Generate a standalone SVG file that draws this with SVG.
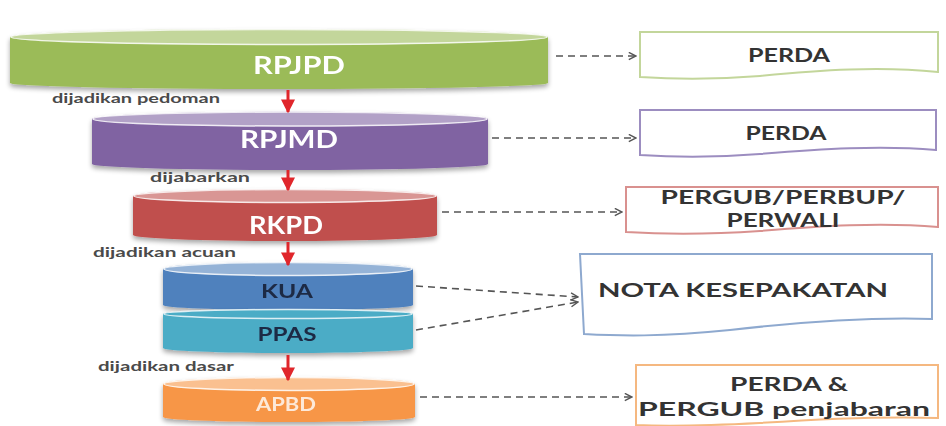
<svg xmlns="http://www.w3.org/2000/svg" width="946" height="426" viewBox="0 0 946 426">
<defs>
<marker id="open" viewBox="0 0 10 10" refX="9" refY="5" markerWidth="9" markerHeight="9" markerUnits="userSpaceOnUse" orient="auto"><path d="M1,1 L9,5 L1,9" fill="none" stroke="#555" stroke-width="1.6"/></marker>
<marker id="red" viewBox="0 0 10 10" refX="9" refY="5" markerWidth="14" markerHeight="14" markerUnits="userSpaceOnUse" orient="auto"><path d="M0,0 L10,5 L0,10 Z" fill="#E0262B"/></marker>
<filter id="sh" x="-5%" y="-20%" width="110%" height="150%"><feGaussianBlur in="SourceAlpha" stdDeviation="2.5"/><feOffset dx="0" dy="3"/><feComponentTransfer><feFuncA type="linear" slope="0.35"/></feComponentTransfer><feMerge><feMergeNode/><feMergeNode in="SourceGraphic"/></feMerge></filter>
</defs>
<style>
.lbl{font-family:Lato,"Liberation Sans",sans-serif;font-weight:bold;text-anchor:middle}
.w{fill:#fff}
.d{fill:#1f2a44}
.doc{fill:#fff;stroke-width:2}
.dt{font-family:Lato,"Liberation Sans",sans-serif;font-weight:bold;fill:#333;text-anchor:middle;font-size:19px}
.cap{font-family:Lato,"Liberation Sans",sans-serif;font-weight:bold;fill:#4a4a4a;font-size:14px}
.dash{fill:none;stroke:#555;stroke-width:1.6;stroke-dasharray:7 5;marker-end:url(#open)}
.ra{stroke:#E0262B;stroke-width:3;marker-end:url(#red)}
.rim{fill:none;stroke:#fff;stroke-width:1.5;stroke-opacity:0.8}
</style>
<rect width="946" height="426" fill="#fff"/>

<g id="rpjpd" filter="url(#sh)">
<path d="M10,37 V83 A269,6 0 0 0 548,83 V37 Z" fill="#9BBB59"/>
<ellipse cx="279" cy="37" rx="269" ry="8" fill="#C3D69B"/>
<ellipse cx="279" cy="37" rx="268" ry="7.5" class="rim"/>
<text class="lbl w" x="299" y="74" font-size="24" textLength="92" lengthAdjust="spacingAndGlyphs">RPJPD</text>
</g>

<g id="rpjmd" filter="url(#sh)">
<path d="M92,119 V164 A198,6 0 0 0 488,164 V119 Z" fill="#8064A2"/>
<ellipse cx="290" cy="119" rx="198" ry="7.5" fill="#B2A1C7"/>
<ellipse cx="290" cy="119" rx="197" ry="7" class="rim"/>
<text class="lbl w" x="289" y="148" font-size="24" textLength="98" lengthAdjust="spacingAndGlyphs">RPJMD</text>
</g>

<g id="rkpd" filter="url(#sh)">
<path d="M133,196 V235 A152,6 0 0 0 437,235 V196 Z" fill="#C0504D"/>
<ellipse cx="285" cy="196" rx="152" ry="7" fill="#D99694"/>
<ellipse cx="285" cy="196" rx="151" ry="6.5" class="rim"/>
<text class="lbl w" x="286" y="234" font-size="24" textLength="74" lengthAdjust="spacingAndGlyphs">RKPD</text>
</g>

<g id="kua" filter="url(#sh)">
<path d="M163,269 V305 A125,5 0 0 0 413,305 V269 Z" fill="#4F81BD"/>
<ellipse cx="288" cy="269" rx="125" ry="7" fill="#95B3D7"/>
<ellipse cx="288" cy="269" rx="124" ry="6.5" class="rim"/>
<text class="lbl d" x="287" y="298" font-size="19" textLength="52" lengthAdjust="spacingAndGlyphs">KUA</text>
</g>

<g id="ppas" filter="url(#sh)">
<path d="M163,314 V348 A125,5 0 0 0 413,348 V314 Z" fill="#4BACC6"/>
<ellipse cx="288" cy="314" rx="125" ry="5" fill="#4BACC6"/>
<ellipse cx="288" cy="314" rx="124" ry="4.5" class="rim"/>
<text class="lbl d" x="287" y="341" font-size="19" textLength="59" lengthAdjust="spacingAndGlyphs">PPAS</text>
</g>

<g id="apbd" filter="url(#sh)">
<path d="M163,384 V417 A126,5 0 0 0 415,417 V384 Z" fill="#F79646"/>
<ellipse cx="289" cy="384" rx="126" ry="7" fill="#FAC090"/>
<ellipse cx="289" cy="384" rx="125" ry="6.5" class="rim"/>
<text class="lbl" fill="#FDE9D9" x="286" y="411" font-size="19" textLength="60" lengthAdjust="spacingAndGlyphs">APBD</text>
</g>

<g id="doc-perda1">
<path class="doc" stroke="#C3D69B" d="M640,32 H938 V72 C880,66 820,70 760,76 C710,80 670,79 640,77 Z"/>
<text class="dt" x="789" y="62" textLength="82" lengthAdjust="spacingAndGlyphs">PERDA</text>
</g>
<g id="doc-perda2">
<path class="doc" stroke="#9C8DC0" d="M640,110 H936 V150 C880,145 820,149 760,154 C710,158 670,157 640,155 Z"/>
<text class="dt" x="786" y="140" textLength="81" lengthAdjust="spacingAndGlyphs">PERDA</text>
</g>
<g id="doc-pergub">
<path class="doc" stroke="#D9918F" d="M626,187 H938 V227 C880,222 820,226 760,231 C700,235 660,234 626,232 Z"/>
<text class="dt" x="783" y="204" font-size="17" textLength="245" lengthAdjust="spacingAndGlyphs">PERGUB/PERBUP/</text>
<text class="dt" x="783" y="227" font-size="17" textLength="113" lengthAdjust="spacingAndGlyphs">PERWALI</text>
</g>
<g id="doc-nota">
<path class="doc" stroke="#8EA9CF" d="M580,254 H932 V319 C870,317 800,322 730,330 C660,337 620,336 584,334 Z"/>
<text class="dt" x="743" y="297" textLength="290" lengthAdjust="spacingAndGlyphs">NOTA KESEPAKATAN</text>
</g>
<g id="doc-apbd">
<path class="doc" stroke="#F5B880" d="M636,365 H938 V418 C880,416 820,419 760,423 C700,426 660,426 636,425 Z"/>
<text class="dt" x="789" y="391" textLength="118" lengthAdjust="spacingAndGlyphs">PERDA &amp;</text>
<text class="dt" x="784" y="416" textLength="292" lengthAdjust="spacingAndGlyphs">PERGUB penjabaran</text>
</g>

<g id="captions">
<text class="cap" x="52" y="103" textLength="168" lengthAdjust="spacingAndGlyphs">dijadikan pedoman</text>
<text class="cap" x="150" y="182" textLength="100" lengthAdjust="spacingAndGlyphs">dijabarkan</text>
<text class="cap" x="93" y="257" textLength="143" lengthAdjust="spacingAndGlyphs">dijadikan acuan</text>
<text class="cap" x="98" y="371" textLength="136" lengthAdjust="spacingAndGlyphs">dijadikan dasar</text>
</g>

<g id="connectors">
<line class="ra" x1="288" y1="90" x2="288" y2="112"/>
<line class="ra" x1="288" y1="170" x2="288" y2="190"/>
<line class="ra" x1="288" y1="242" x2="288" y2="265"/>
<line class="ra" x1="288" y1="355" x2="288" y2="380"/>
<path class="dash" d="M556,56 H636"/>
<path class="dash" d="M492,138 H636"/>
<path class="dash" d="M442,212 H622"/>
<path class="dash" d="M416,286 L578,297"/>
<path class="dash" d="M416,330 L578,302"/>
<path class="dash" d="M420,397 H632"/>
</g>
</svg>
